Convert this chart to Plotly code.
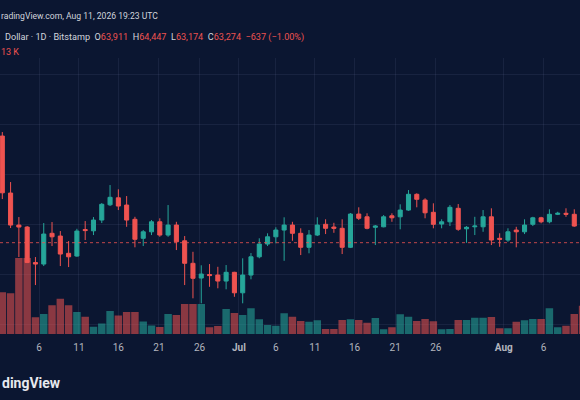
import plotly.graph_objects as go

# ---- data (daily BTC/USD, Bitstamp) ----
opens = [67540, 65260, 63980, 63900, 62480, 62420, 63650, 63540, 62850, 62740,
         63800, 63750, 64180, 64790, 65070, 64780, 64210, 63450, 63710, 64110,
         63580, 63980, 63350, 62450, 61860, 62000, 61980, 61740, 62090, 61270,
         61980, 62710, 63220, 63510, 63780, 63980, 63650, 63090, 63580, 64010,
         63900, 63850, 63090, 64420, 64310, 63890, 63910, 64350, 64310, 64580,
         65210, 64980, 64490, 64020, 64110, 64650, 63830, 63910, 63910, 64310,
         63450, 63380, 63780, 63710, 64010, 64270, 64110, 64410, 64450, 64410,
         63911]
highs = [67700, 65700, 64300, 63940, 62700, 64060, 64100, 63740, 63340, 63830,
         64140, 64300, 64860, 65580, 65410, 65140, 64310, 63780, 64180, 64250,
         64780, 64110, 63540, 62910, 62370, 62420, 62310, 62380, 62110, 62650,
         62860, 63450, 63650, 63890, 64290, 64110, 63850, 63780, 64290, 64210,
         64070, 64210, 64460, 64690, 64450, 63980, 64380, 64450, 64810, 65380,
         65250, 65050, 64850, 64210, 64780, 64820, 63940, 64310, 64580, 64650,
         63650, 63850, 63910, 64210, 64310, 64310, 64610, 64510, 64650, 64610,
         64447]
lows = [65020, 63860, 62700, 62460, 61580, 62340, 63140, 62340, 62300, 62710,
        63380, 63580, 64060, 64740, 64580, 63910, 63090, 63140, 63580, 63510,
        63510, 62980, 61580, 61050, 60850, 61510, 61450, 61410, 61110, 60850,
        61810, 62650, 63140, 63250, 62550, 63350, 62780, 62850, 63540, 63620,
        63670, 62820, 63060, 64180, 63810, 63180, 63890, 64110, 63810, 64550,
        64690, 64250, 63850, 63850, 63940, 63750, 63270, 63580, 63710, 63180,
        63110, 63310, 63090, 63620, 63940, 64050, 64050, 64380, 64310, 63910,
        63174]
closes = [65270, 63980, 63900, 62480, 62420, 63620, 63510, 62820, 62710, 63740,
          63760, 64180, 64810, 65090, 64740, 64180, 63410, 63710, 64110, 63580,
          63980, 63310, 62450, 61850, 62020, 61960, 61740, 62090, 61270, 61980,
          62710, 63220, 63510, 63780, 63980, 63650, 63090, 63580, 63980, 63850,
          63850, 63090, 64420, 64250, 63850, 63940, 64310, 64270, 64580, 65210,
          65010, 64470, 64010, 64110, 64690, 63810, 63890, 63940, 64310, 63380,
          63410, 63710, 63710, 63980, 64270, 64110, 64410, 64450, 64410, 63940,
          63274]
volumes = [1670, 1630, 3040, 3040, 670, 800, 1150, 1410, 1150, 880,
           690, 290, 420, 920, 740, 880, 880, 500, 340, 280,
           800, 760, 1200, 1200, 1200, 270, 320, 1000, 840, 760,
           1030, 590, 360, 330, 830, 690, 520, 490, 550, 200,
           200, 560, 590, 560, 450, 640, 190, 270, 790, 690,
           520, 600, 510, 190, 200, 560, 560, 650, 650, 680,
           230, 230, 490, 550, 600, 600, 1030, 270, 330, 800,
           1130]
tick_pos = [4.43, 9.25, 14.0, 18.9, 23.8, 28.55, 33.0, 37.7, 42.5, 47.4, 52.3, 60.5, 65.3]
tick_text = ["6", "11", "16", "21", "26", "<b>Jul</b>", "6", "11", "16", "21", "26", "<b>Aug</b>", "6"]

BG = "#0b1631"
RED = "#ef5350"
TEAL = "#26a69a"
RED_V = "rgba(239,83,80,0.56)"
TEAL_V = "rgba(38,166,154,0.58)"
TXT = "#d1d4dc"
FONT = "Roboto, Arial, sans-serif"
GRID = "rgba(120,135,170,0.12)"

x = list(range(len(opens)))
vol_colors = [TEAL_V if c >= o else RED_V for o, c in zip(opens, closes)]

fig = go.Figure()
fig.add_trace(go.Bar(x=x, y=volumes, marker=dict(color=vol_colors, line=dict(width=0)),
                     yaxis="y", hoverinfo="skip"))
fig.add_trace(go.Candlestick(
    x=x, open=opens, high=highs, low=lows, close=closes, yaxis="y2",
    increasing=dict(line=dict(color=TEAL, width=1), fillcolor=TEAL),
    decreasing=dict(line=dict(color=RED, width=1), fillcolor=RED),
    whiskerwidth=0))

# price line at last close
fig.add_shape(type="line", xref="paper", x0=0, x1=1, yref="y2", y0=closes[-1], y1=closes[-1],
              line=dict(color=RED, width=1, dash="dot"), opacity=0.8)

def py(px):
    return (334 - px) / 276.0

SP = "&nbsp;&nbsp;"
legend_txt = ("Dollar · 1D · Bitstamp" + SP +
              "O<span style='color:%s'>63,911</span>" + SP +
              "H<span style='color:%s'>64,447</span>" + SP +
              "L<span style='color:%s'>63,174</span>" + SP +
              "C<span style='color:%s'>63,274</span>" + SP +
              "<span style='color:%s'>−637 (−1.00%%)</span>") % (RED, RED, RED, RED, RED)

anns = [
    dict(text="radingView.com, Aug 11, 2026 19:23 UTC", x=-1 / 580, y=py(16), font=dict(size=8.6, color=TXT)),
    dict(text=legend_txt, x=3 / 580, y=py(37.5), font=dict(size=9.1, color=TXT)),
    dict(text="13 K", x=-1 / 580, y=py(51.5), font=dict(size=9, color=RED)),
    dict(text="<b>dingView</b>", x=0, y=py(383), font=dict(size=14, color="#e6e8ee")),
]
for a in anns:
    fig.add_annotation(xref="paper", yref="paper", xanchor="left", yanchor="middle",
                       showarrow=False, **a)
fig.add_annotation(xref="x", yref="paper", x=-0.76, y=py(347), text="Jun", showarrow=False,
                   xanchor="center", yanchor="middle", font=dict(size=10, color="#b2b5be", family=FONT))

fig.update_layout(
    width=580, height=400, margin=dict(l=0, r=0, t=58, b=66, autoexpand=False),
    paper_bgcolor=BG, plot_bgcolor=BG, showlegend=False, bargap=0.1,
    font=dict(family=FONT, color=TXT),
    xaxis=dict(range=[-0.277, 69.69], tickvals=tick_pos, ticktext=tick_text,
               showgrid=True, gridcolor=GRID, gridwidth=1,
               zeroline=False, showline=False, ticks="", rangeslider=dict(visible=False),
               tickfont=dict(size=10, color="#b2b5be"), automargin=False,
               ticklabelstandoff=6),
    yaxis=dict(range=[0, 276 * 40], visible=False, fixedrange=True, automargin=False),
    yaxis2=dict(overlaying="y", range=[72982 - 40 * 334, 72982 - 40 * 58], side="right",
                showticklabels=False, showgrid=True, dtick=2000, tick0=0,
                gridcolor=GRID, zeroline=False, automargin=False),
)

fig.write_html("out.html", config={"displayModeBar": False},
               post_script="document.body.style.margin='0';document.body.style.background='%s';" % BG)
